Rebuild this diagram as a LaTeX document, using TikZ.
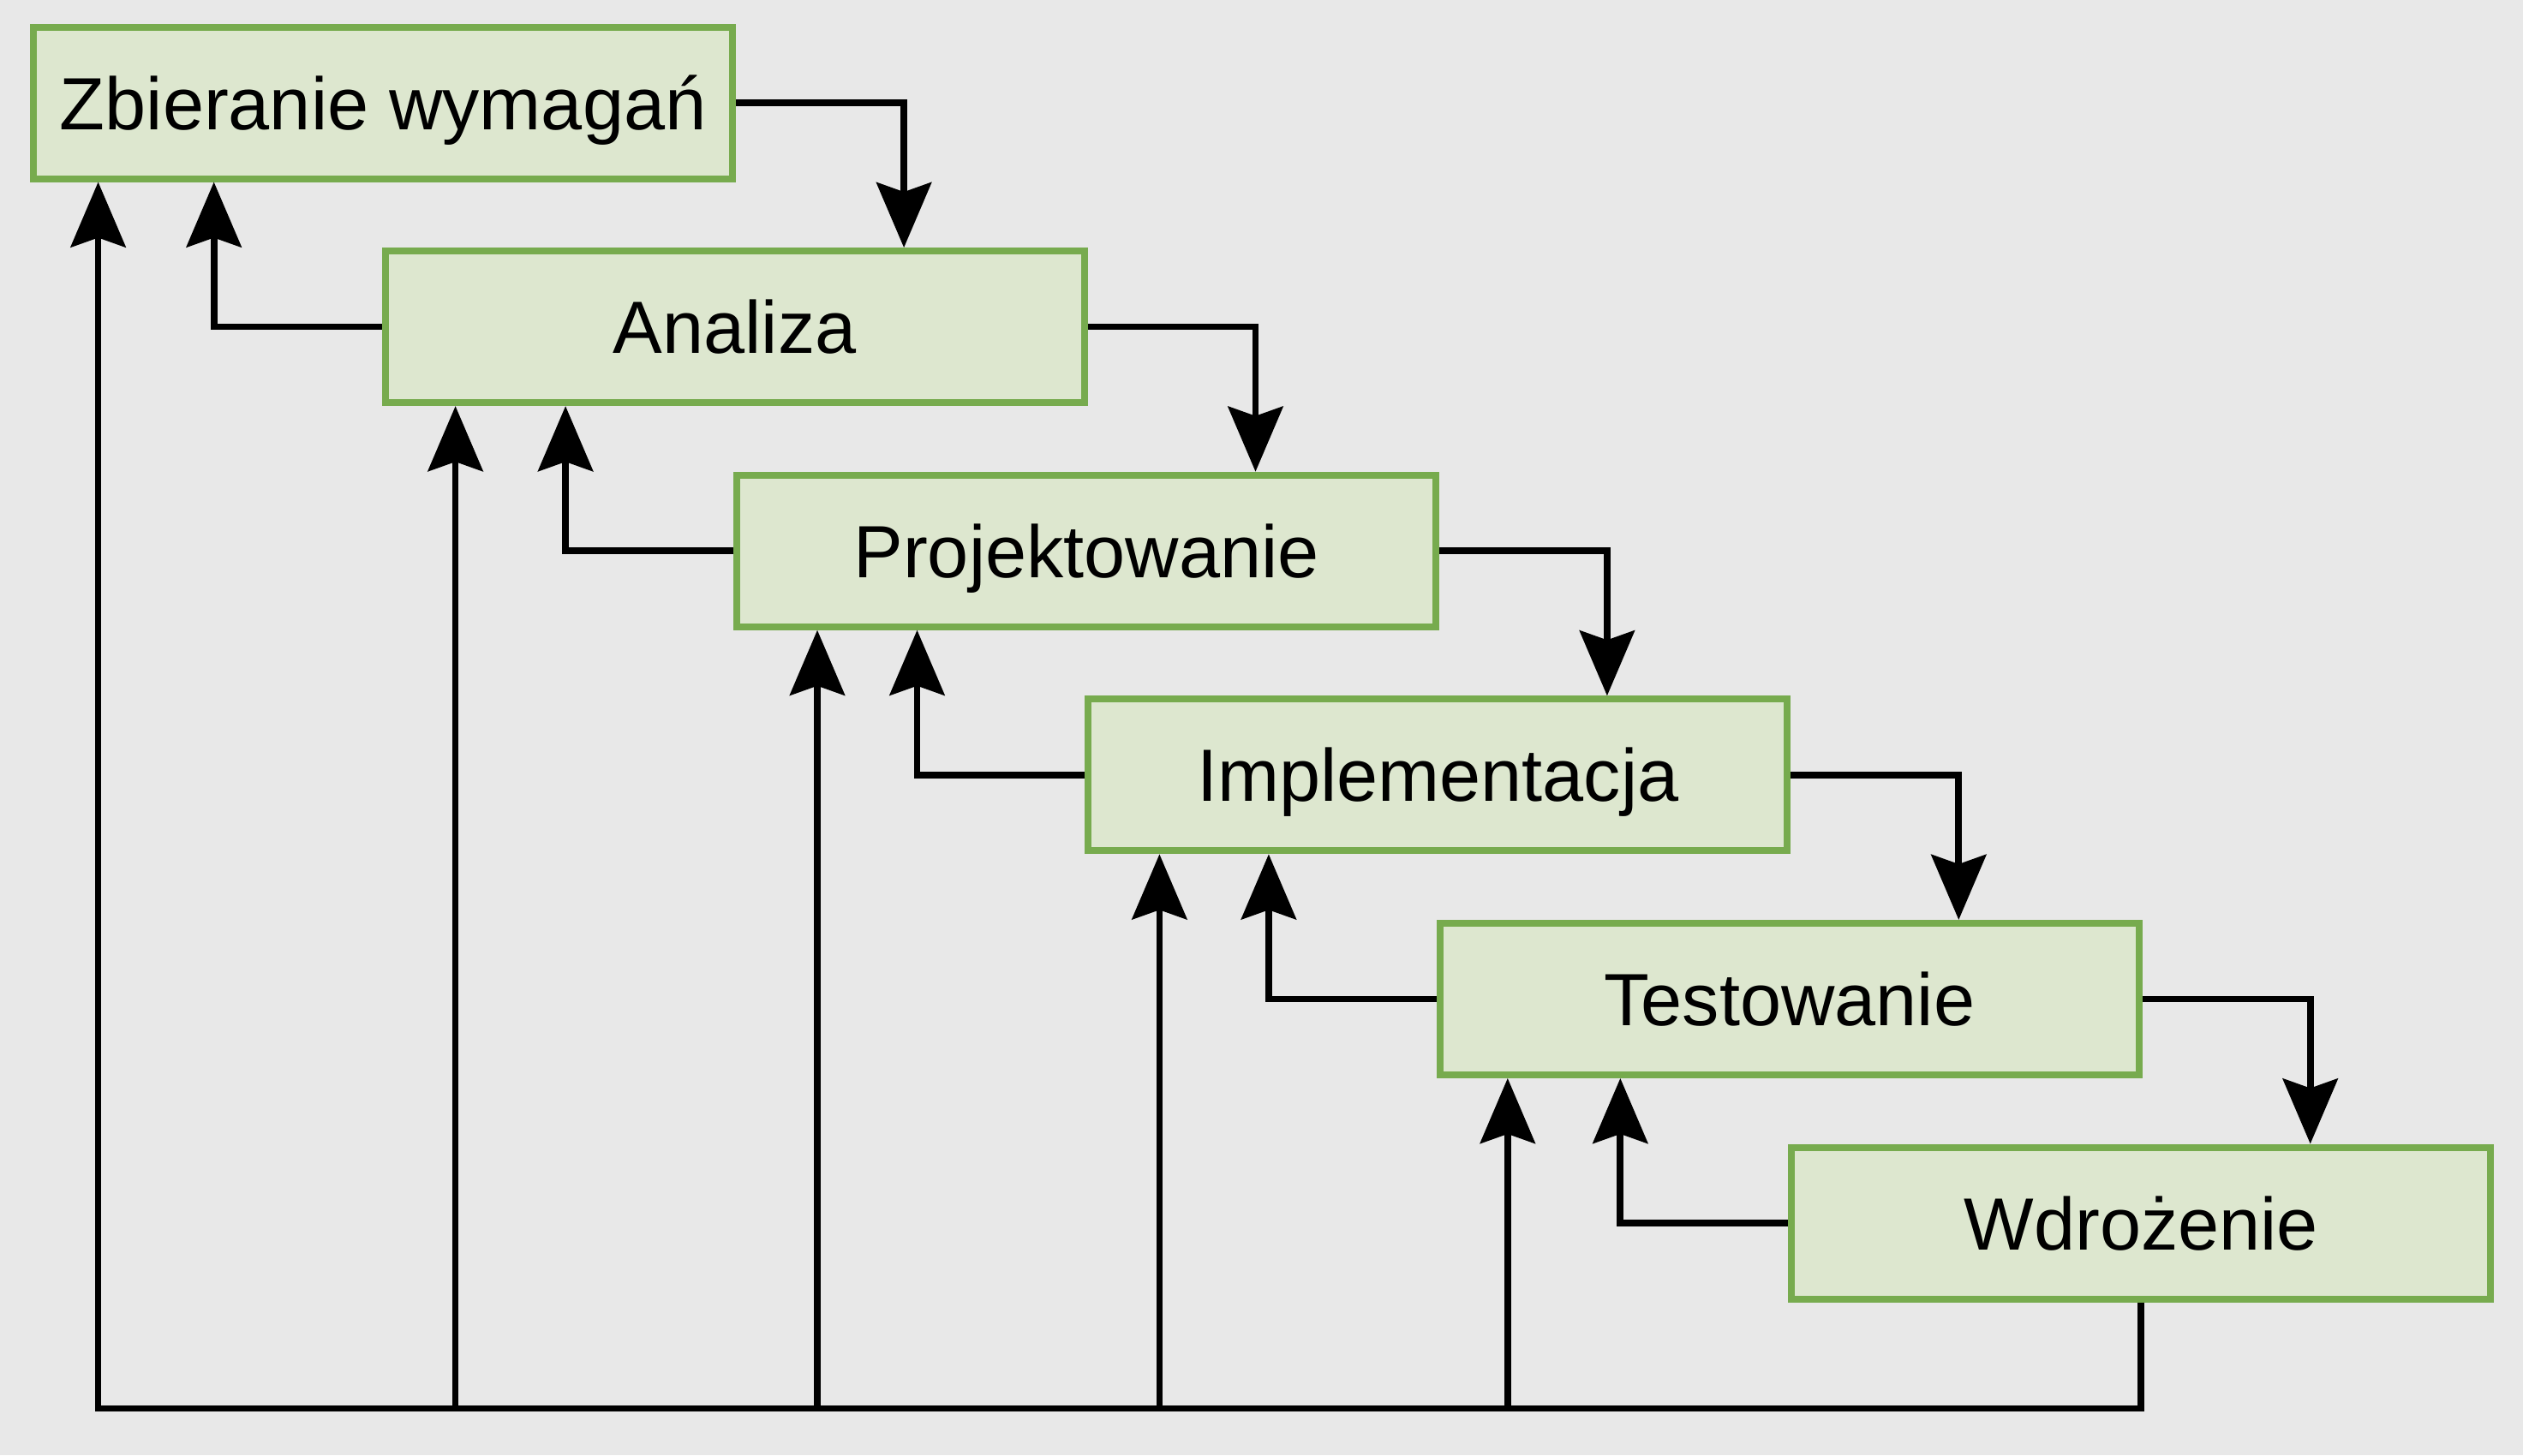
\documentclass[tikz,border=0pt]{standalone}
\usepackage{fontspec}
\setmainfont{Liberation Sans}
\usepackage{tikz}
\usetikzlibrary{arrows.meta,positioning}
\usepackage{xcolor}
\definecolor{phasefill}{HTML}{DDE7CF}
\definecolor{phaseline}{HTML}{77AB4E}
\definecolor{bgcol}{HTML}{E8E8E8}

\begin{document}
\begin{tikzpicture}[node distance=0.766cm, font=\fontsize{24.6}{29}\selectfont,
    phase/.style={draw=phaseline,fill=phasefill,line width=0.08cm,minimum width=8.16cm,minimum height=1.77cm,text height=0.62cm,text depth=0cm,inner sep=0pt},
    flow/.style={line width=0.077cm,-{Stealth[length=0.76cm,width=0.64cm,inset=0.11cm]}}]
\fill[bgcol] (0,0) rectangle (29.45,-16.99);
\useasboundingbox (0,0) rectangle (29.45,-16.99);
\node[phase] (zbier) at (4.472,-1.20) {Zbieranie wymagań};
\node[phase,below=of zbier,xshift=4.104cm] (anal) {Analiza};
\node[phase,below=of anal,xshift=4.104cm] (proj) {Projektowanie};
\node[phase,below=of proj,xshift=4.104cm] (impl) {Implementacja};
\node[phase,below=of impl,xshift=4.104cm] (test) {Testowanie};
\node[phase,below=of test,xshift=4.104cm] (wdro) {Wdrożenie};
% forward
\draw[flow] (zbier.east) -| ([xshift=1.975cm]anal.north);
\draw[flow] (anal.east) -| ([xshift=1.975cm]proj.north);
\draw[flow] (proj.east) -| ([xshift=1.975cm]impl.north);
\draw[flow] (impl.east) -| ([xshift=1.975cm]test.north);
\draw[flow] (test.east) -| ([xshift=1.975cm]wdro.north);
% back one step
\draw[flow] (anal.west) -| ([xshift=-1.975cm]zbier.south);
\draw[flow] (proj.west) -| ([xshift=-1.975cm]anal.south);
\draw[flow] (impl.west) -| ([xshift=-1.975cm]proj.south);
\draw[flow] (test.west) -| ([xshift=-1.975cm]impl.south);
\draw[flow] (wdro.west) -| ([xshift=-1.975cm]test.south);
% back to any phase
\coordinate[below=1.24cm of wdro.south] (base);
\coordinate (u1) at ([xshift=0.794cm]zbier.south west);
\coordinate (u2) at ([xshift=0.86cm]anal.south west);
\coordinate (u3) at ([xshift=0.98cm]proj.south west);
\coordinate (u4) at ([xshift=0.87cm]impl.south west);
\coordinate (u5) at ([xshift=0.83cm]test.south west);
\draw[flow] (wdro.south) -- (base) -| (u1);
\draw[flow] (u2 |- base) -- (u2);
\draw[flow] (u3 |- base) -- (u3);
\draw[flow] (u4 |- base) -- (u4);
\draw[flow] (u5 |- base) -- (u5);
\end{tikzpicture}
\end{document}
